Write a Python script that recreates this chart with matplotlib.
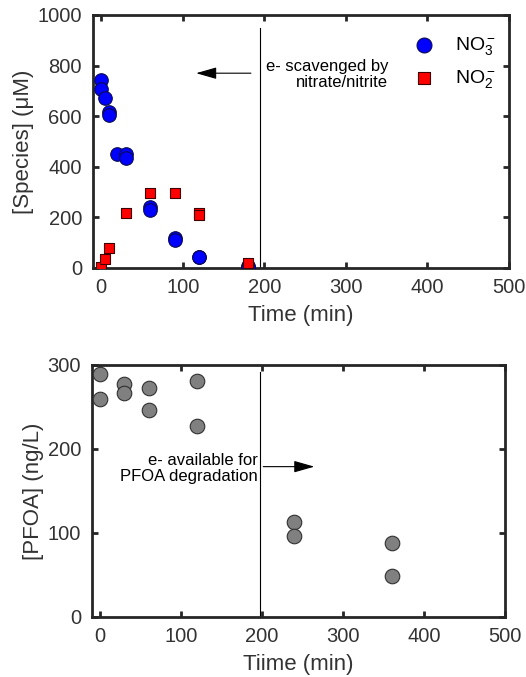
import matplotlib
matplotlib.use("Agg")
import matplotlib.pyplot as plt
import numpy as np

plt.rcParams['font.family'] = ['Liberation Sans', 'DejaVu Sans']
plt.rcParams['mathtext.fontset'] = 'custom'
plt.rcParams['mathtext.rm'] = 'Liberation Sans'
plt.rcParams['mathtext.it'] = 'Liberation Sans'

# top panel: nitrate / nitrite
t_no3 = [0, 0, 5, 10, 10, 20, 30, 30, 60, 60, 90, 90, 120, 120, 180, 180]
no3 = [742, 708, 672, 617, 603, 452, 452, 435, 242, 230, 117, 112, 45, 43, 8, 5]
t_no2 = [0, 5, 10, 30, 60, 90, 120, 120, 180]
no2 = [3, 36, 78, 216, 298, 295, 216, 208, 18]

# bottom panel: PFOA
t_pfoa = [0, 0, 30, 30, 60, 60, 120, 120, 240, 240, 360, 360]
pfoa = [289, 259, 277, 267, 273, 246, 281, 227, 113, 97, 88, 49]

xticks = [0, 100, 200, 300, 400, 500]
dark = '#262626'
txt = '#333333'

fig = plt.figure(figsize=(5.26, 6.77), dpi=100)
ax1 = fig.add_axes([93/526, 1-268/677, 416/526, 253/677])
ax2 = fig.add_axes([92/526, 1-617/677, 413/526, 252/677])

for ax in (ax1, ax2):
    for s in ax.spines.values():
        s.set_linewidth(2)
        s.set_color(dark)
    ax.tick_params(direction='in', length=4, width=2, colors=dark,
                   labelsize=14.5, top=True, right=True, labelcolor=txt)
    ax.tick_params(axis='x', pad=7)
    ax.tick_params(axis='y', pad=8)
    ax.set_xlim(-10, 500)
    ax.set_xticks(xticks)

ax1.scatter(t_no3, no3, s=95, c='#0000ff', edgecolors='#0a0a50', linewidths=0.8,
            label='NO$_3^-$', zorder=3)
ax1.scatter(t_no2, no2, s=55, marker='s', c='#ff0000', edgecolors='#400000',
            linewidths=0.8, label='NO$_2^-$', zorder=4)
ax1.set_ylim(0, 1000)
ax1.set_yticks([0, 200, 400, 600, 800, 1000])
ax1.set_xlabel('Time (min)', fontsize=16, color=txt, labelpad=6)
ax1.set_ylabel('[Species] (\u03bcM)', fontsize=16, color=txt, labelpad=2.5)
ax1.plot([195, 195], [0, 950], color='black', lw=0.8)
ax1.annotate('', xy=(113, 770), xytext=(187, 770),
             arrowprops=dict(arrowstyle='-|>,head_length=0.7,head_width=0.2',
                             color='black', lw=0.8, mutation_scale=18))
ax1.text(352, 765, 'e- scavenged by\nnitrate/nitrite', ha='right', va='center',
         fontsize=12, linespacing=1.1)
ax1.legend(loc='upper left', bbox_to_anchor=(0.73, 0.95), frameon=False,
           fontsize=14, handletextpad=0.6, labelspacing=0.55, borderaxespad=0,
           markerscale=1.1)

ax2.scatter(t_pfoa, pfoa, s=110, c='#808080', edgecolors='#303030',
            linewidths=0.8, zorder=3)
ax2.set_ylim(0, 300)
ax2.set_yticks([0, 100, 200, 300])
ax2.set_xlabel('Tiime (min)', fontsize=16, color=txt, labelpad=6)
ax2.set_ylabel('[PFOA] (ng/L)', fontsize=16, color=txt, labelpad=2.5)
ax2.plot([197, 197], [0, 292], color='black', lw=0.8)
ax2.annotate('', xy=(268, 179), xytext=(198, 179),
             arrowprops=dict(arrowstyle='-|>,head_length=0.7,head_width=0.2',
                             color='black', lw=0.8, mutation_scale=18))
ax2.text(195, 177, 'e- available for\nPFOA degradation', ha='right', va='center',
         fontsize=12, linespacing=1.1)

fig.savefig('out.png', dpi=100)
